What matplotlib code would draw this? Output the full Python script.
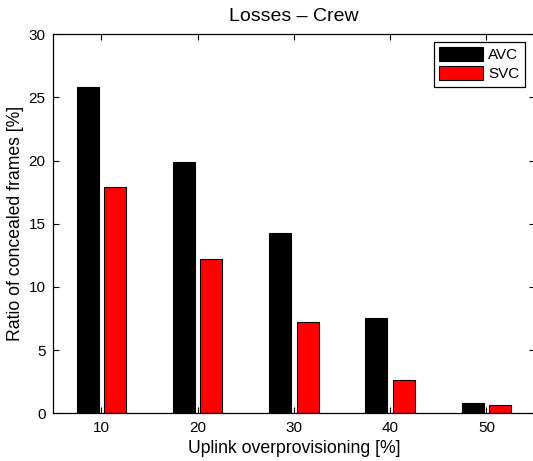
import numpy as np
import matplotlib
matplotlib.use("Agg")
import matplotlib.pyplot as plt

# Datos: porcentaje de frames ocultados según sobreaprovisionamiento del enlace
overprov = [10, 20, 30, 40, 50]
avc = [25.8, 19.9, 14.3, 7.5, 0.85]
svc = [17.9, 12.2, 7.2, 2.6, 0.68]

plt.rcParams['font.family'] = ['Liberation Sans', 'DejaVu Sans']

fig = plt.figure(figsize=(5.33, 4.61), dpi=100)
ax = fig.add_axes([0.1, 0.1035, 0.903, 0.8225])

x = np.array(overprov, dtype=float)
ancho = 2.29
desp = 1.43

ax.bar(x - desp, avc, width=ancho, color='black', edgecolor='black', linewidth=0.8, label='AVC')
ax.bar(x + desp, svc, width=ancho, color='#ff0000', edgecolor='black', linewidth=0.8, label='SVC')

ax.set_xlim(5, 55)
ax.set_ylim(0, 30)
ax.set_xticks(overprov)
ax.set_yticks(range(0, 31, 5))

ax.tick_params(direction='in', length=4, width=0.8, labelsize=11,
               top=True, right=True, pad=5.5)
for s in ax.spines.values():
    s.set_linewidth(0.9)

ax.set_xlabel('Uplink overprovisioning [%]', fontsize=12.7, labelpad=4)
ax.set_ylabel('Ratio of concealed frames [%]', fontsize=12.7, labelpad=3.5)
ax.set_title('Losses \u2013 Crew', fontsize=14, pad=9.5)

leg = ax.legend(loc='upper right', bbox_to_anchor=(524.5 / 533, 1 - 42 / 461),
                bbox_transform=fig.transFigure, borderaxespad=0,
                fancybox=False, framealpha=1, edgecolor='black',
                fontsize=11, handlelength=2.9, handleheight=1.0,
                handletextpad=0.3, labelspacing=0.25, borderpad=0.35)
leg.get_frame().set_linewidth(0.9)

fig.savefig('out.png', dpi=100)
